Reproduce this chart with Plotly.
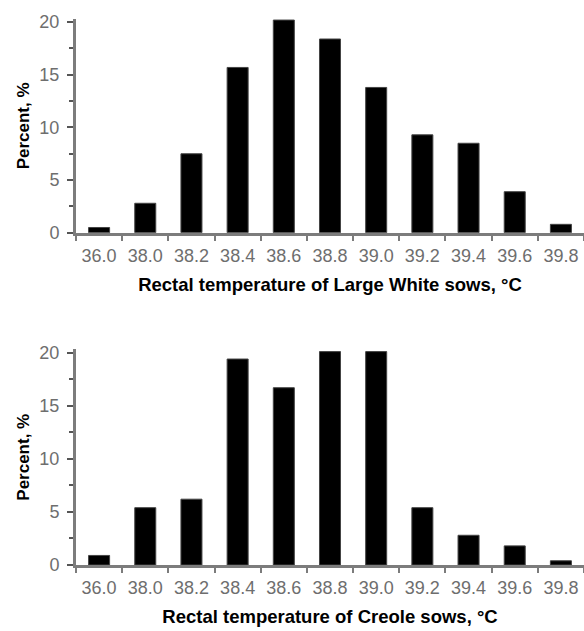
import plotly.graph_objects as go

categories = ["36.0", "38.0", "38.2", "38.4", "38.6", "38.8", "39.0", "39.2", "39.4", "39.6", "39.8"]
large_white = [0.5, 2.8, 7.5, 15.7, 20.2, 18.4, 13.8, 9.3, 8.5, 3.9, 0.8]
creole = [0.9, 5.4, 6.2, 19.4, 16.7, 20.1, 20.1, 5.4, 2.8, 1.8, 0.4]
y_ticks = [0, 5, 10, 15, 20]
x_titles = ["Rectal temperature of Large White sows, °C", "Rectal temperature of Creole sows, °C"]
y_title = "Percent, %"

AX = "#7c7c7c"
TK = "#555555"
FAM = "Liberation Sans, Arial, sans-serif"
TICKFONT = dict(family=FAM, size=18, color="#6e6e6e")
XTITLEFONT = dict(family=FAM, size=18.5, color="#000000")
YTITLEFONT = dict(family=FAM, size=17, color="#000000")

YR = [0, 20.3]

fig = go.Figure()
fig.add_trace(go.Bar(x=categories, y=large_white, xaxis="x", yaxis="y",
                     marker=dict(color="#000000", line=dict(color="#444444", width=1)),
                     showlegend=False))
fig.add_trace(go.Bar(x=categories, y=creole, xaxis="x2", yaxis="y2",
                     marker=dict(color="#000000", line=dict(color="#444444", width=1)),
                     showlegend=False))

def xax(anchor, title):
    return dict(anchor=anchor, domain=[0, 1], type="category", automargin=False,
                range=[-0.5, 10.5], showline=True, linecolor=AX, linewidth=2.5,
                ticks="outside", tickson="boundaries", ticklen=5, tickwidth=2, tickcolor=AX,
                tickfont=TICKFONT, ticklabelstandoff=5, showgrid=False, zeroline=False,
                title=dict(text="<b>" + title + "</b>", font=XTITLEFONT, standoff=13))

def yax(anchor, domain):
    return dict(anchor=anchor, domain=domain, range=YR, tickvals=y_ticks, automargin=False,
                showline=True, linecolor=AX, linewidth=3,
                ticks="outside", ticklen=6, tickwidth=2, tickcolor=TK,
                minor=dict(dtick=2.5, tick0=0, ticks="outside", ticklen=4, tickwidth=2, tickcolor=TK),
                tickfont=TICKFONT, ticklabelstandoff=4, showgrid=False, zeroline=False,
                title=dict(text="<b>" + y_title + "</b>", font=YTITLEFONT, standoff=6))

fig.update_layout(
    width=584, height=631,
    margin=dict(l=76, r=0, t=19, b=66, autoexpand=False),
    paper_bgcolor="white", plot_bgcolor="white",
    bargap=0.545,
    xaxis=xax("y", x_titles[0]),
    yaxis=yax("x", [0.6085, 1.0]),
    xaxis2=xax("y2", x_titles[1]),
    yaxis2=yax("x2", [0.0, 0.3947]),
)

fig.write_html("out.html", config={"displayModeBar": False},
               post_script="document.body.style.margin='0';")
